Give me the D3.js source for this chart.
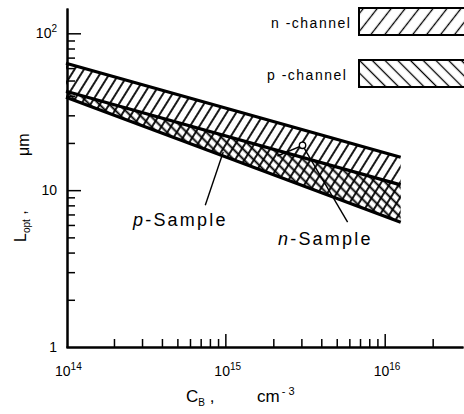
<!DOCTYPE html>
<html>
<head>
<meta charset="utf-8">
<script src="https://cdn.jsdelivr.net/npm/d3@7"></script>
<style>
body { margin: 0; background: #fff; }
text { font-family: "Liberation Sans", Arial, sans-serif; fill: #000; }
</style>
</head>
<body>
<div id="chart"></div>
<script>
// band edges: C_B in cm^-3, L_opt in um
var cB = [1e14, 1.26e16];
var nUpper = [64.4, 16.2];
var pUpper = [42.7, 10.8];
var bandLower = [39.1, 6.25];

// measured n-sample point, its short curve piece and the two leaders
var nSamplePt = [3.05e15, 19.3];
var nSampleCurve = [[2.12e15, 16.5], [3.05e15, 19.3]];
var pLeader = [[7.48e14, 8.02], [9.7e14, 17.5]];
var nLeader = [[3.05e15, 19.3], [5.85e15, 6.25]];

// ticks
var xMajor = [1e14, 1e15, 1e16];
var xExp = ['14', '15', '16'];
var yMajor = [1, 10, 100];
var yBase = ['1', '10', '10'];
var yExp = ['', '', '2'];
var legendNames = ['n-channel', 'p-channel'];

var width = 464,
    height = 414;

var svg = d3.select('#chart')
    .append('svg')
        .attr('width', width)
        .attr('height', height);

var x = d3.scaleLog().domain([1e14, 3.1e16]).range([66, 463]);
var y = d3.scaleLog().domain([1, 145]).range([347, 8]);

// hatch patterns
var defs = svg.append('defs');
function hatch(id, angle, gap, w) {
    var p = defs.append('pattern')
        .attr('id', id)
        .attr('patternUnits', 'userSpaceOnUse')
        .attr('width', gap)
        .attr('height', gap)
        .attr('patternTransform', 'rotate(' + angle + ')');
    p.append('line')
        .attr('x1', gap / 2).attr('y1', -1)
        .attr('x2', gap / 2).attr('y2', gap + 1)
        .attr('stroke', '#000')
        .attr('stroke-width', w);
}
hatch('hatch-n', 32, 8, 1.8);
hatch('hatch-p', -45, 7, 1.9);
hatch('hatch-n-leg', 38, 11, 1.3);
hatch('hatch-p-leg', -45, 9, 1.3);

var idx = d3.range(cB.length);

var nArea = d3.area()
    .x(function (i) { return x(cB[i]); })
    .y0(function (i) { return y(bandLower[i]); })
    .y1(function (i) { return y(nUpper[i]); });
var pArea = d3.area()
    .x(function (i) { return x(cB[i]); })
    .y0(function (i) { return y(bandLower[i]); })
    .y1(function (i) { return y(pUpper[i]); });

svg.append('path')
    .attr('d', nArea(idx))
    .attr('fill', 'url(#hatch-n)');
svg.append('path')
    .attr('d', pArea(idx))
    .attr('fill', 'url(#hatch-p)');

function edge(vals) {
    return d3.line()
        .x(function (i) { return x(cB[i]); })
        .y(function (i) { return y(vals[i]); })(idx);
}
[nUpper, pUpper, bandLower].forEach(function (vals) {
    svg.append('path')
        .attr('d', edge(vals))
        .attr('fill', 'none')
        .attr('stroke', '#000')
        .attr('stroke-width', 3.2);
});

var seg = d3.line()
    .x(function (d) { return x(d[0]); })
    .y(function (d) { return y(d[1]); });

svg.append('path')
    .attr('d', seg(nSampleCurve))
    .attr('fill', 'none')
    .attr('stroke', '#000')
    .attr('stroke-width', 1.6);
[pLeader, nLeader].forEach(function (l) {
    svg.append('path')
        .attr('d', seg(l))
        .attr('fill', 'none')
        .attr('stroke', '#000')
        .attr('stroke-width', 1.4);
});
svg.append('circle')
    .attr('cx', x(nSamplePt[0]))
    .attr('cy', y(nSamplePt[1]))
    .attr('r', 3.2)
    .attr('fill', '#fff')
    .attr('stroke', '#000')
    .attr('stroke-width', 1.4);

// axes, ticks pointing inward
var xMinor = x.ticks().filter(function (t) { return t <= 2.5e16 && xMajor.indexOf(t) < 0; });
var yMinor = y.ticks().filter(function (t) { return t <= 100 && yMajor.indexOf(t) < 0; });

svg.append('g')
    .attr('transform', 'translate(0,347)')
    .call(d3.axisTop(x).tickValues(xMinor).tickSize(8).tickSizeOuter(0).tickFormat(''));
svg.append('g')
    .attr('transform', 'translate(0,347)')
    .call(d3.axisTop(x).tickValues(xMajor.slice(1)).tickSize(13).tickSizeOuter(0).tickFormat(''));
svg.append('g')
    .attr('transform', 'translate(67,0)')
    .call(d3.axisRight(y).tickValues(yMinor).tickSize(8).tickSizeOuter(0).tickFormat(''));
svg.append('g')
    .attr('transform', 'translate(67,0)')
    .call(d3.axisRight(y).tickValues(yMajor.slice(1)).tickSize(14).tickSizeOuter(0).tickFormat(''));
svg.selectAll('.domain').attr('stroke-width', 2);
svg.selectAll('.tick line').attr('stroke-width', 1.5);

// tick labels
xMajor.forEach(function (v, i) {
    var t = svg.append('text')
        .attr('x', x(v) - 11)
        .attr('y', 376)
        .style('font-size', '14px');
    t.append('tspan').text('10');
    t.append('tspan').attr('dy', -6).style('font-size', '10px').text(xExp[i]);
});
yMajor.forEach(function (v, i) {
    var t = svg.append('text')
        .attr('x', 57)
        .attr('y', y(v) + 5)
        .attr('text-anchor', 'end')
        .style('font-size', '14px');
    t.append('tspan').text(yBase[i]);
    if (yExp[i]) t.append('tspan').attr('dy', -6).style('font-size', '10px').text(yExp[i]);
});

// axis titles
var xt = svg.append('text')
    .attr('x', 186)
    .attr('y', 402)
    .style('font-size', '17px');
xt.append('tspan').text('C');
xt.append('tspan').attr('dy', 4).style('font-size', '10px').text('B');
xt.append('tspan').attr('dy', -4).text(' ,');
var ut = svg.append('text')
    .attr('x', 257)
    .attr('y', 402)
    .style('font-size', '17px');
ut.append('tspan').text('cm');
ut.append('tspan').attr('dy', -7).attr('dx', 2).style('font-size', '11px').text('- 3');

var yt = svg.append('text')
    .attr('transform', 'translate(26,242) rotate(-90)')
    .style('font-size', '16px');
yt.append('tspan').text('L');
yt.append('tspan').attr('dy', 4).style('font-size', '10px').text('opt');
yt.append('tspan').attr('dy', -4).text(' ,');
svg.append('text')
    .attr('transform', 'translate(29,156) rotate(-90)')
    .style('font-size', '16px')
    .text('μm');

// sample labels
[['p', 133, 226], ['n', 278, 245]].forEach(function (s) {
    var t = svg.append('text')
        .attr('x', s[1])
        .attr('y', s[2])
        .style('font-size', '18px')
        .style('letter-spacing', '2.2px');
    t.append('tspan').style('font-style', 'italic').text(s[0]);
    t.append('tspan').text('-Sample');
});

// legend
legendNames.forEach(function (name, i) {
    var yy = 8 + i * 52;
    svg.append('text')
        .attr('x', i === 0 ? 271 : 267)
        .attr('y', yy + 20)
        .style('font-size', '14px')
        .style('letter-spacing', '1.5px')
        .text(name.replace('-', ' -'));
    svg.append('rect')
        .attr('x', 359)
        .attr('y', yy)
        .attr('width', 115)
        .attr('height', 27)
        .attr('fill', i === 0 ? 'url(#hatch-n-leg)' : 'url(#hatch-p-leg)')
        .attr('stroke', '#000')
        .attr('stroke-width', 2);
});
</script>
</body>
</html>
